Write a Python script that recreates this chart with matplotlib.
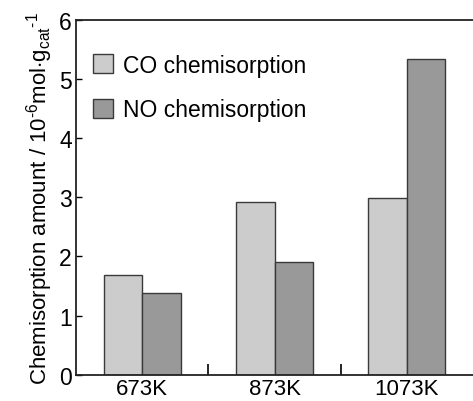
import matplotlib
matplotlib.use("Agg")
import matplotlib.pyplot as plt
import numpy as np

temps = ["673K", "873K", "1073K"]
co_amount = [1.69, 2.92, 2.98]
no_amount = [1.39, 1.90, 5.33]

plt.rcParams['font.family'] = ['Liberation Sans', 'DejaVu Sans']
plt.rcParams['mathtext.fontset'] = 'custom'
plt.rcParams['mathtext.rm'] = 'Liberation Sans'
plt.rcParams['mathtext.it'] = 'Liberation Sans'

fig = plt.figure(figsize=(4.73, 4.02), dpi=100)
ax = fig.add_axes([0.1607, 0.065, 0.8393, 0.884])

x = np.arange(len(temps))
w = 0.29
ax.bar(x - w / 2, co_amount, w, color="#cccccc", edgecolor="#3a3a3a",
       linewidth=1.0, label="CO chemisorption")
ax.bar(x + w / 2, no_amount, w, color="#999999", edgecolor="#3a3a3a",
       linewidth=1.0, label="NO chemisorption")

ax.set_xlim(-0.5, 2.5)
ax.set_ylim(0, 6)
ax.set_yticks(range(7))
ax.set_xticks(x)
ax.set_xticklabels(temps)
ax.set_xticks([0.5, 1.5], minor=True)
ax.tick_params(axis="x", which="major", length=0, labelsize=16, pad=2)
ax.tick_params(axis="x", which="minor", direction="in", length=8, width=1.2)
ax.tick_params(axis="y", direction="in", length=4, width=1.0, labelsize=16.5, pad=3)

for s in ["left", "top", "bottom"]:
    ax.spines[s].set_linewidth(1.3)
    ax.spines[s].set_color("#222222")
ax.spines["right"].set_visible(False)

ax.set_ylabel("Chemisorption amount / 10$^{\\text{-}6}$mol$\\cdot$g$_{cat}$$^{\\text{-}1}$",
              fontsize=16, labelpad=3)

ax.legend(loc="upper left", frameon=False, fontsize=16.5,
          handlelength=0.85, handleheight=0.85, handletextpad=0.45,
          labelspacing=0.95, borderaxespad=0.0,
          bbox_to_anchor=(0.02, 0.93))

fig.savefig("out.png", dpi=100)
